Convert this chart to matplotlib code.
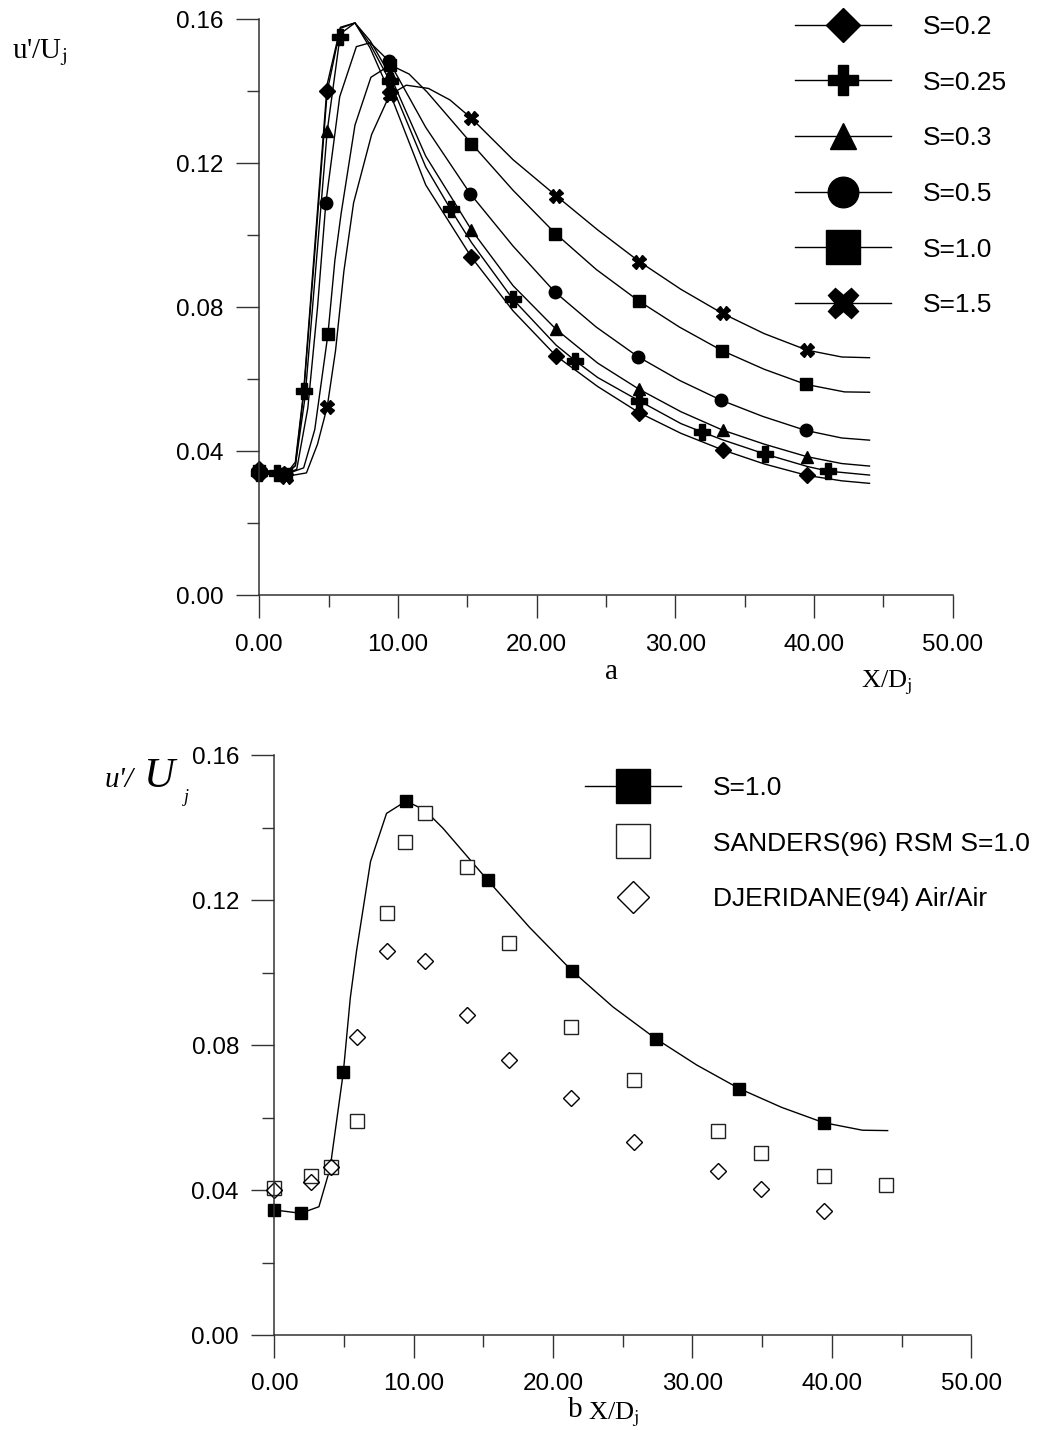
import matplotlib
matplotlib.use('Agg')
import matplotlib.pyplot as plt
from matplotlib.lines import Line2D
from matplotlib.ticker import MultipleLocator, FormatStrFormatter

plt.rcParams['font.family'] = ['Liberation Sans', 'DejaVu Sans']
plt.rcParams['mathtext.fontset'] = 'stix'

# ---- computed turbulence intensity along the axis, one curve per swirl number
labels = ['S=0.2', 'S=0.25', 'S=0.3', 'S=0.5', 'S=1.0', 'S=1.5']
markers = ['D', 'P', '^', 'o', 's', 'X']

s02_line_x = [0, 1.9, 2.6, 3.2, 4.0, 4.9, 5.85, 6.9, 8.0, 9.4, 12.0, 15.3, 18.3, 21.4, 24.4, 27.4, 30.4, 33.4, 36.4, 39.5, 42.0, 44.0]
s02_line_y = [0.035, 0.0335, 0.036, 0.056, 0.095, 0.140, 0.1575, 0.159, 0.152, 0.1397, 0.114, 0.0939, 0.079, 0.0665, 0.058, 0.0507, 0.045, 0.0404, 0.0365, 0.0333, 0.0318, 0.0311]
s02_mark_x = [0, 1.8, 4.9, 9.4, 15.3, 21.4, 27.4, 33.4, 39.5]
s02_mark_y = [0.035, 0.0336, 0.140, 0.1397, 0.0939, 0.0665, 0.0507, 0.0404, 0.0333]

s025_line_x = [0, 1.3, 1.9, 2.6, 3.2, 4.0, 4.9, 5.85, 6.9, 8.0, 9.4, 12.0, 13.8, 15.3, 18.3, 21.4, 22.8, 24.4, 27.4, 30.4, 31.9, 33.4, 36.5, 39.5, 41.0, 44.0]
s025_line_y = [0.034, 0.034, 0.0335, 0.037, 0.0567, 0.097, 0.142, 0.1578, 0.159, 0.153, 0.143, 0.119, 0.1072, 0.098, 0.0822, 0.0695, 0.0651, 0.0605, 0.054, 0.0477, 0.0454, 0.0432, 0.0392, 0.0358, 0.0345, 0.0334]
s025_mark_x = [0, 1.3, 3.2, 5.8, 9.4, 13.8, 18.3, 22.8, 27.4, 31.9, 36.5, 41.0]
s025_mark_y = [0.034, 0.034, 0.0567, 0.155, 0.143, 0.1072, 0.0822, 0.0651, 0.054, 0.0454, 0.0392, 0.0345]

s03_line_x = [0, 1.8, 2.6, 3.3, 4.1, 4.9, 5.85, 6.9, 8.0, 9.4, 12.0, 15.3, 18.3, 21.4, 24.4, 27.4, 30.4, 33.4, 36.4, 39.5, 42.0, 44.0]
s03_line_y = [0.035, 0.0336, 0.036, 0.055, 0.092, 0.129, 0.156, 0.159, 0.154, 0.1447, 0.122, 0.1015, 0.086, 0.0739, 0.0645, 0.0572, 0.051, 0.0459, 0.042, 0.0385, 0.0366, 0.0359]
s03_mark_x = [0, 1.8, 4.9, 9.4, 15.3, 21.4, 27.4, 33.4, 39.5]
s03_mark_y = [0.035, 0.0336, 0.129, 0.1447, 0.1015, 0.0739, 0.0572, 0.0459, 0.0385]

s05_line_x = [0, 1.8, 2.7, 3.5, 4.2, 4.8, 5.8, 7.0, 8.0, 9.35, 12.0, 15.2, 18.3, 21.3, 24.3, 27.3, 30.3, 33.3, 36.3, 39.4, 42.0, 44.0]
s05_line_y = [0.034, 0.0336, 0.035, 0.052, 0.080, 0.109, 0.1385, 0.1524, 0.1535, 0.1484, 0.130, 0.1116, 0.097, 0.0843, 0.0745, 0.0663, 0.0597, 0.0542, 0.0497, 0.0458, 0.0437, 0.0431]
s05_mark_x = [0, 1.8, 4.8, 9.35, 15.2, 21.3, 27.3, 33.3, 39.4]
s05_mark_y = [0.034, 0.0336, 0.109, 0.1484, 0.1116, 0.0843, 0.0663, 0.0542, 0.0458]

s10_line_x = [0, 1.9, 3.2, 4.0, 4.95, 5.45, 5.9, 6.9, 8.05, 9.45, 10.8, 12.1, 15.3, 18.3, 21.35, 24.3, 27.35, 30.3, 33.35, 36.4, 39.4, 42.2, 44.0]
s10_line_y = [0.0345, 0.0336, 0.0354, 0.046, 0.0725, 0.093, 0.106, 0.1306, 0.1439, 0.1473, 0.1448, 0.1398, 0.1255, 0.1125, 0.1005, 0.0905, 0.0818, 0.0745, 0.068, 0.0628, 0.0586, 0.0565, 0.0564]
s10_mark_x = [0, 1.9, 4.95, 9.45, 15.3, 21.35, 27.35, 33.35, 39.4]
s10_mark_y = [0.0345, 0.0336, 0.0725, 0.1473, 0.1255, 0.1005, 0.0818, 0.068, 0.0586]

s15_line_x = [0, 1.9, 3.4, 4.2, 4.9, 5.5, 6.1, 6.8, 8.1, 9.4, 10.6, 12.2, 13.75, 15.3, 18.3, 21.4, 24.4, 27.4, 30.4, 33.4, 36.4, 39.5, 42.0, 44.0]
s15_line_y = [0.034, 0.033, 0.034, 0.042, 0.0524, 0.068, 0.090, 0.109, 0.128, 0.139, 0.1417, 0.1408, 0.1376, 0.1325, 0.121, 0.111, 0.1015, 0.0927, 0.085, 0.0783, 0.0727, 0.0681, 0.0662, 0.066]
s15_mark_x = [0, 1.9, 4.9, 9.4, 15.3, 21.4, 27.4, 33.4, 39.5]
s15_mark_y = [0.034, 0.033, 0.0524, 0.139, 0.1325, 0.111, 0.0927, 0.0783, 0.0681]

# ---- reference data for S=1.0
sanders_x = [0, 2.6, 4.1, 5.9, 8.1, 9.4, 10.8, 13.8, 16.8, 21.3, 25.8, 31.85, 34.9, 39.4, 43.9]
sanders_y = [0.0405, 0.0439, 0.0463, 0.0591, 0.1163, 0.1361, 0.1441, 0.1292, 0.1082, 0.085, 0.0703, 0.0563, 0.0503, 0.0439, 0.0413]
djeridane_x = [0, 2.6, 4.1, 5.9, 8.1, 10.8, 13.8, 16.8, 21.3, 25.8, 31.85, 34.9, 39.4]
djeridane_y = [0.040, 0.0423, 0.0463, 0.0823, 0.106, 0.1033, 0.0883, 0.076, 0.0653, 0.0532, 0.0453, 0.0403, 0.0343]

lines_x = [s02_line_x, s025_line_x, s03_line_x, s05_line_x, s10_line_x, s15_line_x]
lines_y = [s02_line_y, s025_line_y, s03_line_y, s05_line_y, s10_line_y, s15_line_y]
marks_x = [s02_mark_x, s025_mark_x, s03_mark_x, s05_mark_x, s10_mark_x, s15_mark_x]
marks_y = [s02_mark_y, s025_mark_y, s03_mark_y, s05_mark_y, s10_mark_y, s15_mark_y]
mark_sizes = [8, 11, 9, 9, 9, 10]
legend_sizes = [17, 22, 19, 22, 24, 22]

AX_COLOR = '#333333'


def style_axes(ax):
    ax.set_xlim(0, 50)
    ax.set_ylim(0, 0.16)
    ax.spines['top'].set_visible(False)
    ax.spines['right'].set_visible(False)
    for side in ('left', 'bottom'):
        ax.spines[side].set_color(AX_COLOR)
        ax.spines[side].set_linewidth(1.1)
    ax.xaxis.set_major_locator(MultipleLocator(10))
    ax.xaxis.set_minor_locator(MultipleLocator(5))
    ax.yaxis.set_major_locator(MultipleLocator(0.04))
    ax.yaxis.set_minor_locator(MultipleLocator(0.02))
    ax.xaxis.set_major_formatter(FormatStrFormatter('%.2f'))
    ax.yaxis.set_major_formatter(FormatStrFormatter('%.2f'))
    ax.tick_params(which='major', direction='out', length=16.5, width=1,
                   color=AX_COLOR, labelsize=17.5)
    ax.tick_params(which='minor', direction='out', length=8.3, width=1,
                   color=AX_COLOR)
    ax.tick_params(axis='y', which='major', pad=9)
    ax.tick_params(axis='x', which='major', pad=11)


fig = plt.figure(figsize=(10.6, 14.3), dpi=100)

# ---------------- (a) swirl number effect
ax1 = fig.add_axes([0.2446, 0.5837, 0.6542, 0.4028])
style_axes(ax1)
for i in range(len(labels)):
    ax1.plot(lines_x[i], lines_y[i], color='black', lw=1.0, clip_on=False)
    ax1.plot(marks_x[i], marks_y[i], linestyle='none', marker=markers[i],
             ms=mark_sizes[i], color='black', mec='black', clip_on=False)

handles = [Line2D([], [], color='black', lw=1.0, marker=markers[i],
                  ms=legend_sizes[i], mec='black') for i in range(len(labels))]
fig.legend(handles, labels, loc='upper left',
           bbox_to_anchor=(795 / 1060, 1 - 15 / 1430),
           frameon=False, fontsize=19, handlelength=3.65, handletextpad=1.2,
           labelspacing=1.2, borderpad=0, borderaxespad=0)

fig.text(12 / 1060, 1 - 58 / 1430, r"u'/U$_{\mathrm{j}}$", family='Liberation Serif',
         fontsize=21)
fig.text(612 / 1060, 1 - 672 / 1430, 'a', family='Liberation Serif',
         fontsize=21, ha='center', va='center')
fig.text(861 / 1060, 1 - 687 / 1430, r"X/D$_{\mathrm{j}}$", family='Liberation Serif',
         fontsize=19)

# ---------------- (b) comparison with reference data, S=1.0
ax2 = fig.add_axes([0.2588, 0.0664, 0.6575, 0.4056])
style_axes(ax2)
ax2.plot(s10_line_x, s10_line_y, color='black', lw=1.0, clip_on=False)
ax2.plot(s10_mark_x, s10_mark_y, linestyle='none', marker='s', ms=8.5,
         color='black', clip_on=False)
ax2.plot(sanders_x, sanders_y, linestyle='none', marker='s', ms=9.5,
         mfc='white', mec='#222222', mew=1.0, clip_on=False)
ax2.plot(djeridane_x, djeridane_y, linestyle='none', marker='D', ms=8,
         mfc='none', mec='black', mew=1.0, clip_on=False)

handles_b = [
    Line2D([], [], color='black', lw=1.0, marker='s', ms=24),
    Line2D([], [], linestyle='none', marker='s', ms=24, mfc='white',
           mec='#222222', mew=1.0),
    Line2D([], [], linestyle='none', marker='D', ms=16, mfc='white',
           mec='black', mew=1.0),
]
labels_b = ['S=1.0', 'SANDERS(96) RSM S=1.0', 'DJERIDANE(94) Air/Air']
fig.legend(handles_b, labels_b, loc='upper left',
           bbox_to_anchor=(585 / 1060, 1 - 776 / 1430),
           frameon=False, fontsize=19, handlelength=3.65, handletextpad=1.2,
           labelspacing=1.2, borderpad=0, borderaxespad=0)

fig.text(105 / 1060, 1 - 787 / 1430, "u'/", family='Liberation Serif',
         style='italic', fontsize=21)
fig.text(143 / 1060, 1 - 787 / 1430, 'U', family='Liberation Serif',
         style='italic', fontsize=31)
fig.text(184 / 1060, 1 - 802 / 1430, 'j', family='Liberation Serif',
         style='italic', fontsize=13)
fig.text(575 / 1060, 1 - 1417 / 1430, 'b', family='Liberation Serif',
         fontsize=21, ha='center', va='baseline')
fig.text(588 / 1060, 1 - 1419 / 1430, r"X/D$_{\mathrm{j}}$", family='Liberation Serif',
         fontsize=19)

fig.savefig('out.png', dpi=100)
